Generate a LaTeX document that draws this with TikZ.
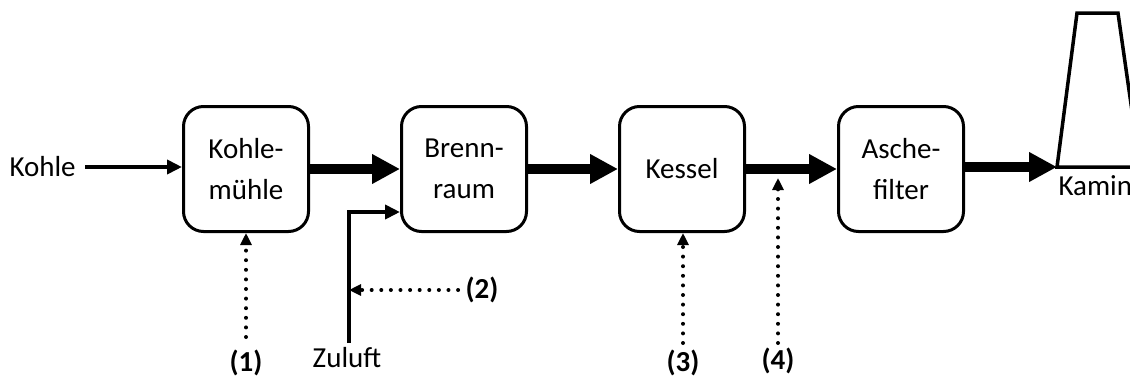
\documentclass[tikz,border=0pt]{standalone}
\usepackage{fontspec}
\setmainfont{Carlito}
\usetikzlibrary{arrows.meta}
\begin{document}
\begin{tikzpicture}[x=1pt,y=-1pt,
  box/.style={draw,line width=3pt,rounded corners=20pt,minimum width=125pt,minimum height=125pt,align=center,font=\fontsize{29}{41}\selectfont},
  lbl/.style={font=\fontsize{29}{32}\selectfont},
  numlbl/.style={font=\fontsize{29}{32}\selectfont\bfseries},
  bigflow/.style={line width=10pt,-{Triangle[length=28pt,width=28pt]}},
  thinflow/.style={line width=4pt,-{Triangle[length=15pt,width=14pt]}},
  dotflow/.style={line width=4pt,line cap=round,dash pattern=on 0pt off 9.6pt,-{Triangle[length=12pt,width=11pt]}},
]
\useasboundingbox (0,0) rectangle (1130,383);
\node[box] (muehle) at (246,169) {Kohle-\\mühle};
\node[box] (brenn) at (464,169) {Brenn-\\raum};
\node[box] (kessel) at (682,169) {Kessel};
\node[box] (asche) at (901,169) {Asche-\\filter};
\node[lbl,anchor=west] (kohle) at (6,167) {Kohle};
\coordinate (kamin) at (1057,167);
\draw[line width=3.5pt,line join=miter] (1057,167) -- (1077,13) -- (1118,13) -- (1140,167) -- cycle;
\node[lbl,anchor=north west] (kamintext) at (1055,172) {Kamin};
\draw[thinflow] (kohle.east) ++(6,0) coordinate (kstart) -- (muehle.west |- kstart);
\draw[bigflow] (muehle.east) -- (brenn.west);
\draw[bigflow] (brenn.east) -- (kessel.west);
\draw[bigflow] (kessel.east) -- (asche.west);
\draw[bigflow] (asche.east |- kamin) -- (kamin);
\node[lbl] (zuluft) at (347,358) {Zuluft};
\coordinate (zin) at (400,212);
\draw[thinflow,line join=miter] (349,343) coordinate (zbot) |- (zin);
\node[numlbl] (n2) at (482,290) {(2)};
\coordinate (zmid) at (349,290);
\draw[dotflow] (n2.west) ++(-4,0) -- (zmid);
\node[numlbl] (n1) at (246,363) {(1)};
\draw[dotflow] (246,337) -- (muehle.south);
\node[numlbl] (n3) at (683,363) {(3)};
\draw[dotflow] (683,343) -- (kessel.south -| 683,0);
\node[numlbl] (n4) at (778,361) {(4)};
\coordinate (f4) at (778,178);
\draw[dotflow] (778,343) -- (f4);
\end{tikzpicture}
\end{document}
